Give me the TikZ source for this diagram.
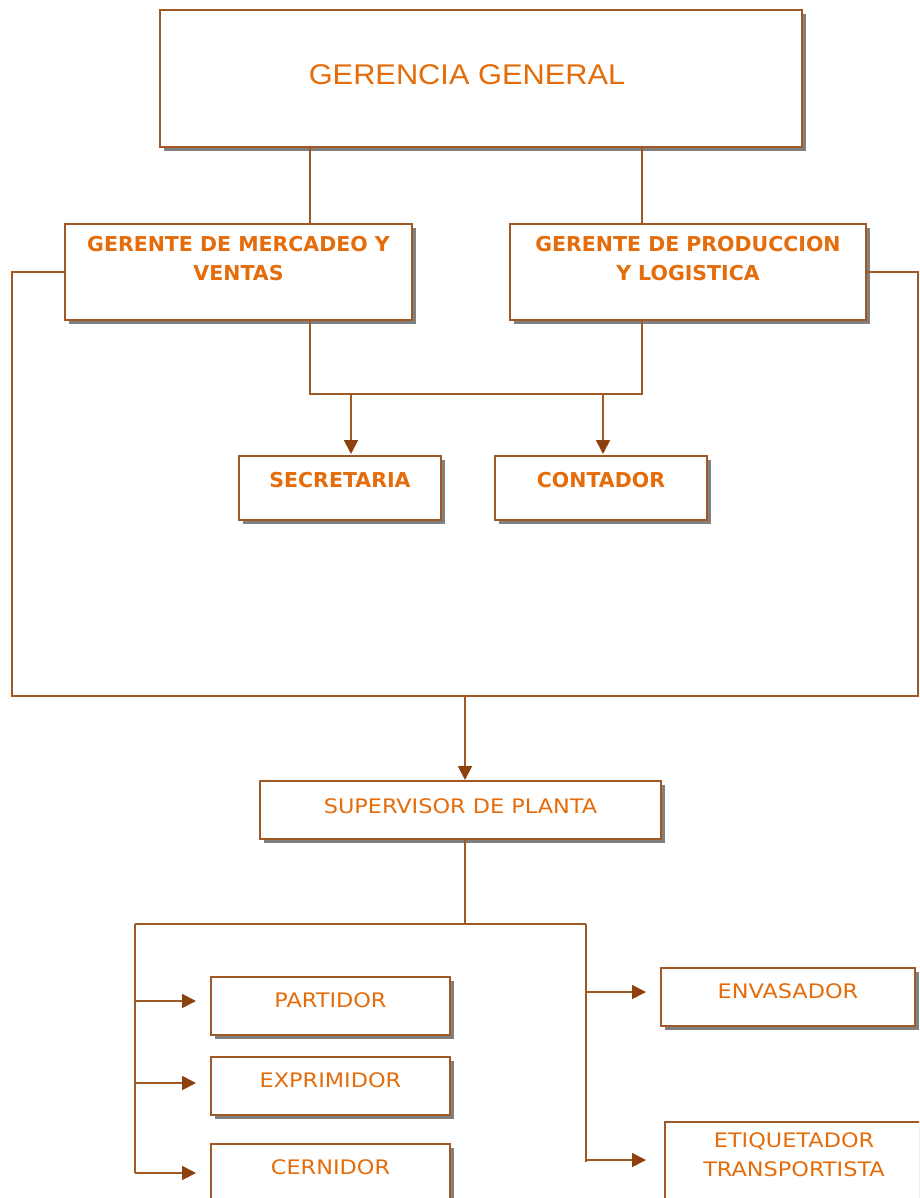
\documentclass[tikz,border=0pt]{standalone}
\usepackage{fontspec}
\setmainfont{DejaVu Sans}
\newfontfamily\ggfont[FakeStretch=1.08]{Liberation Sans}
\newfontfamily\regfont[FakeStretch=1.12]{DejaVu Sans}
\newfontfamily\bldfont{DejaVu Sans}
\usetikzlibrary{arrows.meta,shadows}
\definecolor{txt}{RGB}{228,108,10}
\definecolor{brd}{RGB}{160,88,36}
\definecolor{tipc}{RGB}{140,65,15}
\definecolor{shd}{RGB}{128,128,128}
\newcommand{\bxt}[4]{\parbox[c][#2][t]{#1}{\centering\vspace*{#3}#4\par}}
\tikzset{
  orgbox/.style={draw=brd, line width=1.8pt, fill=white, inner sep=0pt, outer sep=0pt,
    anchor=north west, text=txt,
    drop shadow={shadow xshift=4pt, shadow yshift=-4pt, fill=shd, opacity=1}},
  bigf/.style={font=\ggfont\fontsize{28.5}{32}\selectfont},
  boldf/.style={font=\bldfont\bfseries\fontsize{20.5}{29}\selectfont},
  regf/.style={font=\regfont\fontsize{20}{29}\selectfont},
  conn/.style={draw=brd, line width=1.8pt},
  arr/.style={conn, -{Triangle[length=14pt,width=14pt,fill=tipc,color=tipc]}}
}
\begin{document}
\begin{tikzpicture}[x=1pt,y=-1pt]
\useasboundingbox (0,0) rectangle (919,1198);
\clip (0,0) rectangle (919,1198);
\fill[white] (0,0) rectangle (919,1198);

% boxes
\node[orgbox,bigf] (gg) at (160,10) {\bxt{642pt}{137pt}{55pt}{GERENCIA GENERAL\hspace*{28pt}}};
\node[orgbox,boldf] (mv) at (65,224) {\bxt{347pt}{96pt}{12pt}{GERENTE DE MERCADEO Y\\VENTAS}};
\node[orgbox,boldf] (pl) at (510,224) {\bxt{356pt}{96pt}{12pt}{GERENTE DE PRODUCCION\\Y LOGISTICA}};
\node[orgbox,boldf] (sec) at (239,456) {\bxt{202pt}{64pt}{16pt}{SECRETARIA}};
\node[orgbox,boldf] (con) at (495,456) {\bxt{212pt}{64pt}{16pt}{CONTADOR}};
\node[orgbox,regf] (sup) at (260,781) {\bxt{401pt}{58pt}{18pt}{SUPERVISOR DE PLANTA}};
\node[orgbox,regf] (par) at (211,977) {\bxt{239pt}{58pt}{16pt}{PARTIDOR}};
\node[orgbox,regf] (exp) at (211,1057) {\bxt{239pt}{58pt}{16pt}{EXPRIMIDOR}};
\node[orgbox,regf] (cer) at (211,1144) {\bxt{239pt}{58pt}{16pt}{CERNIDOR}};
\node[orgbox,regf] (env) at (661,968) {\bxt{254pt}{58pt}{16pt}{ENVASADOR}};
\node[orgbox,regf] (eti) at (665,1122) {\bxt{258pt}{80pt}{11pt}{ETIQUETADOR\\TRANSPORTISTA}};

% helper coordinates
\coordinate (xa) at (310,0);
\coordinate (xb) at (642,0);
\coordinate (jl) at (310,394);
\coordinate (jr) at (642,394);
\coordinate (xs) at (351,0);
\coordinate (xc) at (603,0);
\coordinate (lc) at (12,696);
\coordinate (rc) at (918,696);
\coordinate (xm) at (465,696);
\coordinate (k) at (465,924);
\coordinate (kl) at (135,924);
\coordinate (kr) at (586,924);

% connectors
\draw[conn] (gg.south -| xa) -- (mv.north -| xa);
\draw[conn] (gg.south -| xb) -- (pl.north -| xb);
\draw[conn] (mv.south -| xa) -- (jl) -- (jr) -- (pl.south -| xb);
\draw[arr, shorten >=2pt] (jl -| xs) -- (sec.north -| xs);
\draw[arr, shorten >=2pt] (jr -| xc) -- (con.north -| xc);
\draw[conn] (mv.west) -- (mv.west -| lc) -- (lc) -- (rc) -- (pl.east -| rc) -- (pl.east);
\draw[arr, shorten >=1pt] (xm) -- (sup.north -| xm);
\draw[conn] (sup.south -| k) -- (k);
\draw[conn] (kl) -- (kr);
\draw[conn] (kl) -- (kl |- cer.west);
\draw[conn] (kr) -- (kr |- eti.west);
\draw[arr, shorten >=15pt] ([yshift=5pt]par.west -| kl) -- ([yshift=5pt]par.west);
\draw[arr, shorten >=15pt] ([yshift=3pt]exp.west -| kl) -- ([yshift=3pt]exp.west);
\draw[arr, shorten >=15pt] (cer.west -| kl) -- (cer.west);
\draw[arr, shorten >=15pt] ([yshift=5pt]env.west -| kr) -- ([yshift=5pt]env.west);
\draw[arr, shorten >=19pt] ([yshift=2pt]eti.west -| kr) -- ([yshift=2pt]eti.west);
\end{tikzpicture}
\end{document}
